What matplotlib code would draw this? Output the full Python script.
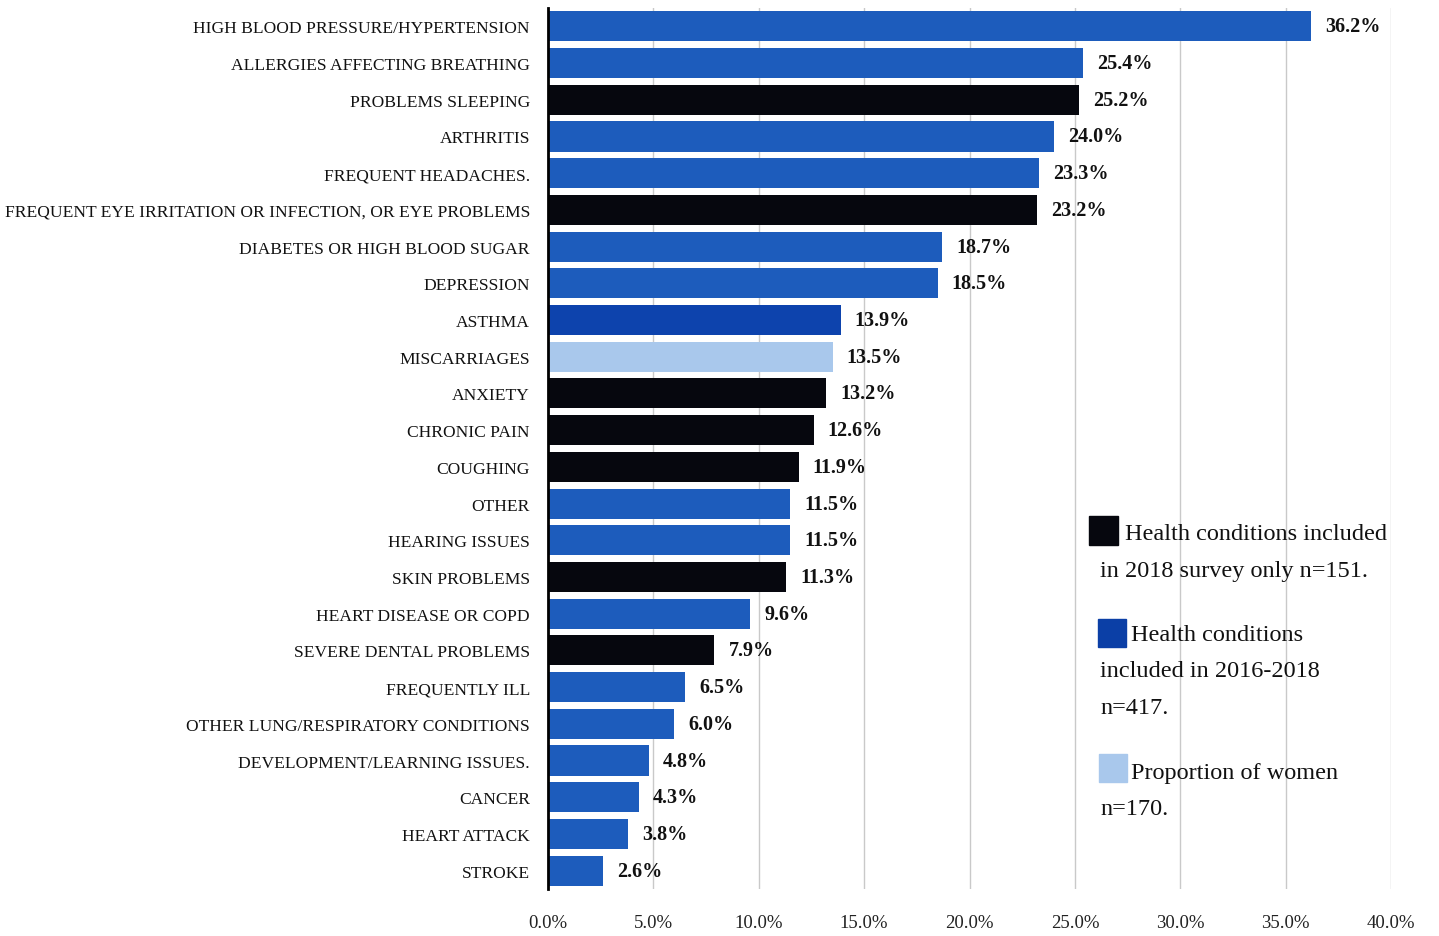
import matplotlib
matplotlib.use("Agg")
import matplotlib.pyplot as plt
from matplotlib.patches import Rectangle

# Health conditions, in display order (top to bottom)
conditions = [
    "HIGH BLOOD PRESSURE/HYPERTENSION",
    "ALLERGIES AFFECTING BREATHING",
    "PROBLEMS SLEEPING",
    "ARTHRITIS",
    "FREQUENT HEADACHES.",
    "FREQUENT EYE IRRITATION OR INFECTION, OR EYE PROBLEMS",
    "DIABETES OR HIGH BLOOD SUGAR",
    "DEPRESSION",
    "ASTHMA",
    "MISCARRIAGES",
    "ANXIETY",
    "CHRONIC PAIN",
    "COUGHING",
    "OTHER",
    "HEARING ISSUES",
    "SKIN PROBLEMS",
    "HEART DISEASE OR COPD",
    "SEVERE DENTAL PROBLEMS",
    "FREQUENTLY ILL",
    "OTHER LUNG/RESPIRATORY CONDITIONS",
    "DEVELOPMENT/LEARNING ISSUES.",
    "CANCER",
    "HEART ATTACK",
    "STROKE",
]
percent = [36.2, 25.4, 25.2, 24.0, 23.3, 23.2, 18.7, 18.5, 13.9, 13.5, 13.2,
           12.6, 11.9, 11.5, 11.5, 11.3, 9.6, 7.9, 6.5, 6.0, 4.8, 4.3, 3.8, 2.6]
# Survey group for each condition: "both" = 2016-2018, "2018" = 2018 only, "women"
group = ["both", "both", "2018", "both", "both", "2018", "both", "both", "asthma",
         "women", "2018", "2018", "2018", "both", "both", "2018", "both", "2018",
         "both", "both", "both", "both", "both", "both"]

x_ticks = [0, 5, 10, 15, 20, 25, 30, 35, 40]
x_tick_labels = ["0.0%", "5.0%", "10.0%", "15.0%", "20.0%", "25.0%", "30.0%", "35.0%", "40.0%"]

legend_entries = [
    ("2018", ["Health conditions included", "in 2018 survey only n=151."]),
    ("legend_both", ["Health conditions", "included in 2016-2018", "n=417."]),
    ("women", ["Proportion of women", "n=170."]),
]

palette = {
    "both": "#1d5cbc",
    "asthma": "#0d43ad",
    "2018": "#06070e",
    "women": "#a9c8ec",
    "legend_both": "#0b3fa6",
}

serif = ["Liberation Serif", "DejaVu Serif"]

fig = plt.figure(figsize=(14.39, 9.37), dpi=100)
ax = fig.add_axes([548 / 1439, 1 - 890 / 937, 843 / 1439, 881 / 937])

positions = list(range(len(conditions)))
colors = [palette[g] for g in group]
bars = ax.barh(positions, percent, height=0.82, color=colors, zorder=3)

for pos, val in zip(positions, percent):
    ax.annotate(f"{val:.1f}%", xy=(val, pos), xytext=(10, 0),
                textcoords="offset points", va="center", ha="left",
                fontsize=14.5, fontweight="bold", family=serif, color="#111111")

ax.set_xlim(0, 40)
ax.set_ylim(len(conditions) - 0.5, -0.5)
ax.set_xticks(x_ticks)
ax.set_xticklabels(x_tick_labels, family=serif, fontsize=13.5, color="#222222")
ax.set_yticks(positions)
ax.set_yticklabels(conditions, family=serif, fontsize=12.6, color="#111111")
ax.tick_params(axis="y", length=0, pad=13)
ax.tick_params(axis="x", length=0, pad=18)

ax.grid(axis="x", color="#c9c9c9", linewidth=1.0, zorder=0)
ax.grid(axis="y", visible=False)
for side in ("top", "right", "bottom"):
    ax.spines[side].set_visible(False)
ax.spines["left"].set_color("black")
ax.spines["left"].set_linewidth(2.0)
ax.spines["left"].set_zorder(4)

# Hand-placed legend blocks on the right side
W, H = 1439, 937
legend_layout = [
    # (square x, square y top, square size, first-line x, line ys)
    (1089, 517, 29, 1125, [534, 571]),
    (1098, 620, 28, 1131, [636, 672, 709]),
    (1099, 755, 28, 1131, [774, 810]),
]
for (key, lines), (sx, sy, ss, tx, ys) in zip(legend_entries, legend_layout):
    fig.patches.append(Rectangle((sx / W, 1 - (sy + ss) / H), ss / W, ss / H,
                                 transform=fig.transFigure, color=palette[key]))
    for i, (line, y) in enumerate(zip(lines, ys)):
        x = tx if i == 0 else 1100
        fig.text(x / W, 1 - y / H, line, family=serif, fontsize=17.5,
                 color="#111111", ha="left", va="center")

fig.savefig("out.png", dpi=100, facecolor="white")
